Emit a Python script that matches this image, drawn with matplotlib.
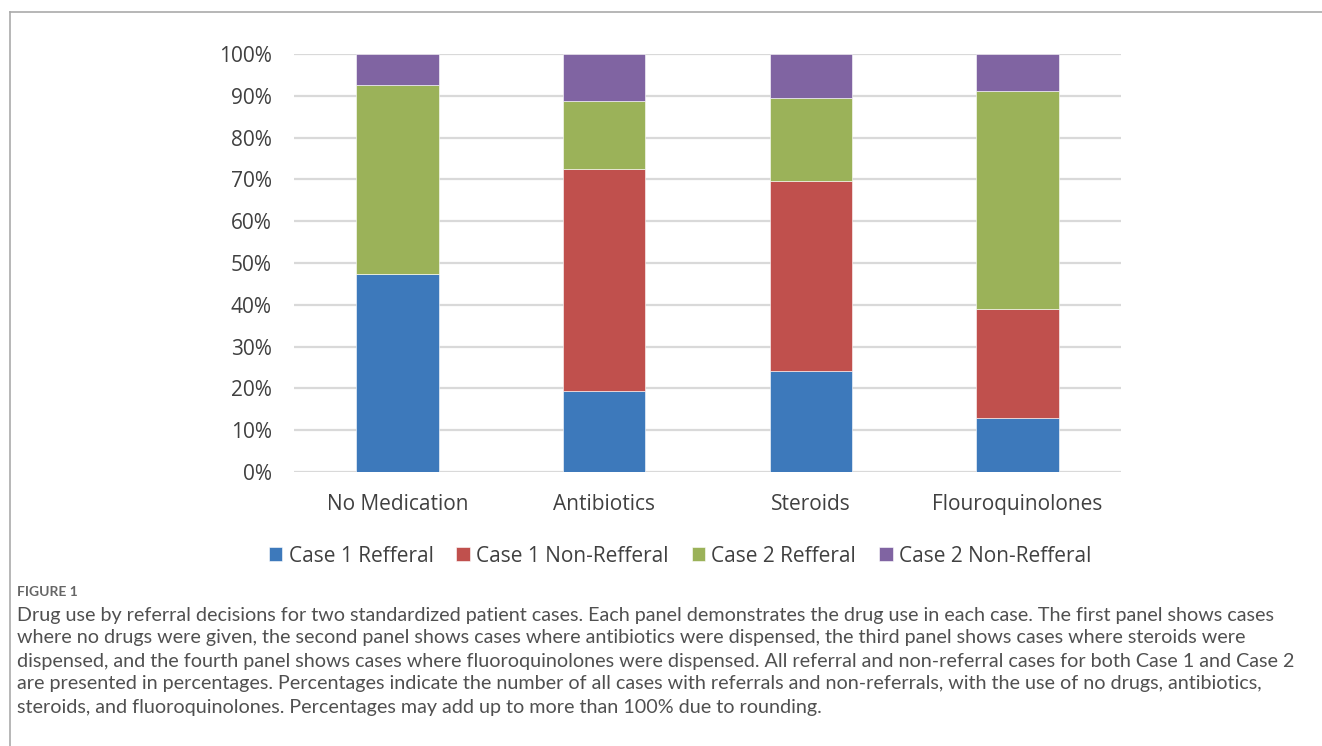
import matplotlib
matplotlib.use("Agg")
import matplotlib.pyplot as plt
import numpy as np

# data (percent)
categories = ["No Medication", "Antibiotics", "Steroids", "Flouroquinolones"]
series_names = ["Case 1 Refferal", "Case 1 Non-Refferal", "Case 2 Refferal", "Case 2 Non-Refferal"]
case1_ref = [47.3, 19.3, 24.1, 12.8]
case1_nonref = [0.0, 53.1, 45.4, 26.1]
case2_ref = [45.3, 16.4, 20.0, 52.2]
case2_nonref = [7.4, 11.2, 10.5, 8.9]
y_ticks = [0, 10, 20, 30, 40, 50, 60, 70, 80, 90, 100]

colors = ["#3D79BB", "#C0504D", "#9BB259", "#8064A2"]

caption_lines = [
    "Drug use by referral decisions for two standardized patient cases. Each panel demonstrates the drug use in each case. The first panel shows cases",
    "where no drugs were given, the second panel shows cases where antibiotics were dispensed, the third panel shows cases where steroids were",
    "dispensed, and the fourth panel shows cases where fluoroquinolones were dispensed. All referral and non-referral cases for both Case 1 and Case 2",
    "are presented in percentages. Percentages indicate the number of all cases with referrals and non-referrals, with the use of no drugs, antibiotics,",
    "steroids, and fluoroquinolones. Percentages may add up to more than 100% due to rounding.",
]

W, H = 1322, 746
fig = plt.figure(figsize=(W / 100, H / 100), dpi=100)
fig.patch.set_facecolor("white")

# axes placed in pixel terms
ax = fig.add_axes([294 / W, 1 - 472 / H, (1121 - 294) / W, (472 - 54) / H])

x = np.arange(len(categories))
bottom = np.zeros(len(categories))
for vals, name, c in zip([case1_ref, case1_nonref, case2_ref, case2_nonref], series_names, colors):
    ax.bar(x, vals, width=0.4, bottom=bottom, color=c, label=name, zorder=3,
           edgecolor="white", linewidth=0.4)
    bottom += np.array(vals)

ax.set_xlim(-0.5, 3.5)
ax.set_ylim(0, 100)
ax.set_yticks(y_ticks)
ax.set_yticklabels([f"{t}%" for t in y_ticks])
ax.set_xticks(x)
ax.set_xticklabels(categories)
ax.grid(axis="y", color="#D9D9D9", linewidth=1.6, zorder=0)
for s in ax.spines.values():
    s.set_visible(False)
ax.tick_params(axis="both", length=0, labelsize=15, colors="#404040")
ax.tick_params(axis="y", pad=16)
ax.tick_params(axis="x", pad=16)
for lab in ax.get_xticklabels() + ax.get_yticklabels():
    lab.set_fontfamily("Open Sans")

leg = fig.legend(loc="center", bbox_to_anchor=(680 / W, 1 - 556 / H), ncol=4, frameon=False,
                 prop={"family": "Open Sans", "size": 15}, handlelength=0.65, handleheight=0.65,
                 handletextpad=0.3, columnspacing=1.1)
for t in leg.get_texts():
    t.set_color("#404040")

# frame lines (top and left) like the journal page
fig.add_artist(plt.Line2D([10 / W, 1], [1 - 12 / H, 1 - 12 / H], color="#AAAAAA", linewidth=1.2))
fig.add_artist(plt.Line2D([10 / W, 10 / W], [0, 1 - 12 / H], color="#AAAAAA", linewidth=1.2))

fig.text(17 / W, 1 - 592 / H, "FIGURE 1", fontsize=10, color="#666666", fontfamily="Lato",
         fontweight="bold", va="center")
for i, line in enumerate(caption_lines):
    fig.text(17 / W, 1 - (615 + 23 * i) / H, line, fontsize=14.25, color="#505050",
             fontfamily="Lato", va="center")

fig.savefig("out.png", dpi=100, facecolor="white")
